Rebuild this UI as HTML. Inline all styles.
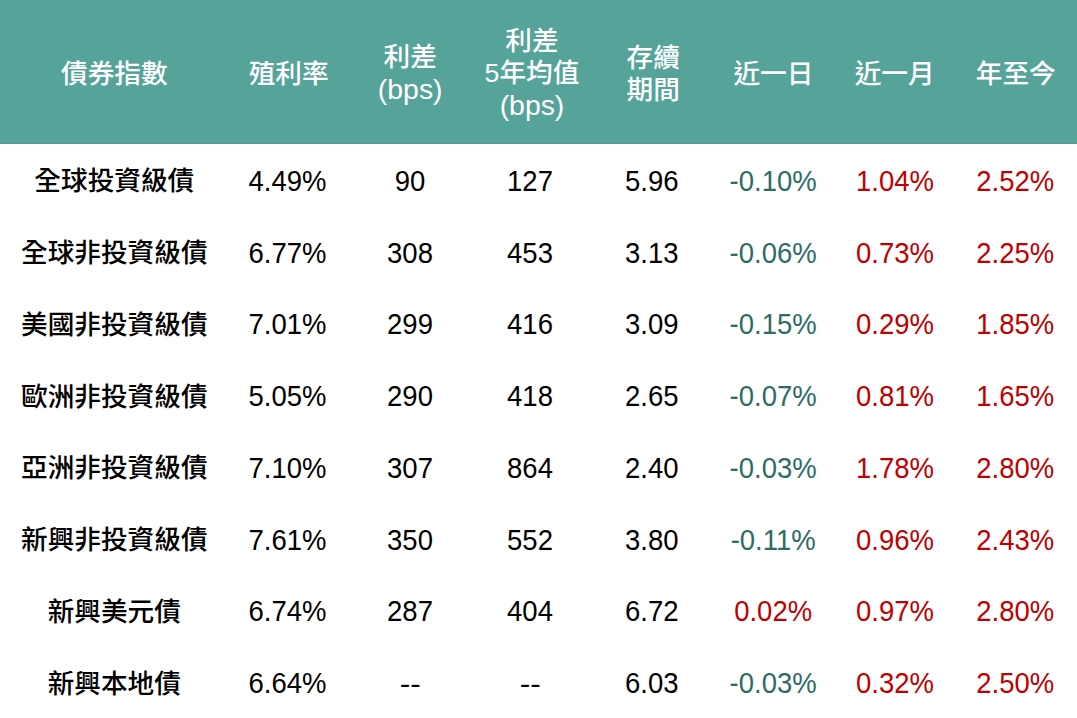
<!DOCTYPE html><html><head><meta charset="utf-8"><style>
*{margin:0;padding:0;box-sizing:border-box}
html,body{width:1077px;height:718px;overflow:hidden;background:#fff}
body{position:relative;font-family:"Liberation Sans","Noto Sans CJK TC",sans-serif}
.hd{position:absolute;left:0;top:0;width:1077px;height:144px;background:#56A39A;border-bottom:1px solid #4F9C94}
.h{position:absolute;width:200px;top:1.5px;height:144px;display:flex;align-items:center;justify-content:center;text-align:center;color:#fff;font-size:26.67px;line-height:32px;font-weight:500;font-family:"Liberation Sans","Noto Sans CJK TC",sans-serif}
.c{position:absolute;width:200px;height:71.75px;display:flex;align-items:center;justify-content:center;text-align:center;font-size:27.5px;color:#000;white-space:nowrap}
.n{font-family:"Liberation Sans","Noto Sans CJK TC",sans-serif;font-weight:500;font-size:26.67px;padding-bottom:2px}
.c span{display:inline-block;transform:translateY(1.5px) scaleY(1.04)}
.b{font-size:28.4px}
.c span.d{transform:translateY(1.5px) scaleX(1.15)}
.g{color:#2E6B64}
.r{color:#C00000}
</style></head><body>
<div class="hd"></div>
<div class="h" style="left:14.3px"><div>債券指數</div></div>
<div class="h" style="left:188.7px"><div>殖利率</div></div>
<div class="h" style="left:310.2px"><div>利差<br><span class=b>(bps)</span></div></div>
<div class="h" style="left:432.0px"><div>利差<br>5年均值<br><span class=b>(bps)</span></div></div>
<div class="h" style="left:553.2px"><div>存續<br>期間</div></div>
<div class="h" style="left:673.4px"><div>近一日</div></div>
<div class="h" style="left:794.7px"><div>近一月</div></div>
<div class="h" style="left:915.8px"><div>年至今</div></div>
<div class="c n" style="left:14.3px;top:144.00px">全球投資級債</div>
<div class="c" style="left:187.5px;top:144.00px"><span>4.49%</span></div>
<div class="c" style="left:310.0px;top:144.00px"><span>90</span></div>
<div class="c" style="left:430.0px;top:144.00px"><span>127</span></div>
<div class="c" style="left:551.8px;top:144.00px"><span>5.96</span></div>
<div class="c g" style="left:673.2px;top:144.00px"><span>-0.10%</span></div>
<div class="c r" style="left:795.0px;top:144.00px"><span>1.04%</span></div>
<div class="c r" style="left:915.3px;top:144.00px"><span>2.52%</span></div>
<div class="c n" style="left:14.3px;top:215.75px">全球非投資級債</div>
<div class="c" style="left:187.5px;top:215.75px"><span>6.77%</span></div>
<div class="c" style="left:310.0px;top:215.75px"><span>308</span></div>
<div class="c" style="left:430.0px;top:215.75px"><span>453</span></div>
<div class="c" style="left:551.8px;top:215.75px"><span>3.13</span></div>
<div class="c g" style="left:673.2px;top:215.75px"><span>-0.06%</span></div>
<div class="c r" style="left:795.0px;top:215.75px"><span>0.73%</span></div>
<div class="c r" style="left:915.3px;top:215.75px"><span>2.25%</span></div>
<div class="c n" style="left:14.3px;top:287.50px">美國非投資級債</div>
<div class="c" style="left:187.5px;top:287.50px"><span>7.01%</span></div>
<div class="c" style="left:310.0px;top:287.50px"><span>299</span></div>
<div class="c" style="left:430.0px;top:287.50px"><span>416</span></div>
<div class="c" style="left:551.8px;top:287.50px"><span>3.09</span></div>
<div class="c g" style="left:673.2px;top:287.50px"><span>-0.15%</span></div>
<div class="c r" style="left:795.0px;top:287.50px"><span>0.29%</span></div>
<div class="c r" style="left:915.3px;top:287.50px"><span>1.85%</span></div>
<div class="c n" style="left:14.3px;top:359.25px">歐洲非投資級債</div>
<div class="c" style="left:187.5px;top:359.25px"><span>5.05%</span></div>
<div class="c" style="left:310.0px;top:359.25px"><span>290</span></div>
<div class="c" style="left:430.0px;top:359.25px"><span>418</span></div>
<div class="c" style="left:551.8px;top:359.25px"><span>2.65</span></div>
<div class="c g" style="left:673.2px;top:359.25px"><span>-0.07%</span></div>
<div class="c r" style="left:795.0px;top:359.25px"><span>0.81%</span></div>
<div class="c r" style="left:915.3px;top:359.25px"><span>1.65%</span></div>
<div class="c n" style="left:14.3px;top:431.00px">亞洲非投資級債</div>
<div class="c" style="left:187.5px;top:431.00px"><span>7.10%</span></div>
<div class="c" style="left:310.0px;top:431.00px"><span>307</span></div>
<div class="c" style="left:430.0px;top:431.00px"><span>864</span></div>
<div class="c" style="left:551.8px;top:431.00px"><span>2.40</span></div>
<div class="c g" style="left:673.2px;top:431.00px"><span>-0.03%</span></div>
<div class="c r" style="left:795.0px;top:431.00px"><span>1.78%</span></div>
<div class="c r" style="left:915.3px;top:431.00px"><span>2.80%</span></div>
<div class="c n" style="left:14.3px;top:502.75px">新興非投資級債</div>
<div class="c" style="left:187.5px;top:502.75px"><span>7.61%</span></div>
<div class="c" style="left:310.0px;top:502.75px"><span>350</span></div>
<div class="c" style="left:430.0px;top:502.75px"><span>552</span></div>
<div class="c" style="left:551.8px;top:502.75px"><span>3.80</span></div>
<div class="c g" style="left:673.2px;top:502.75px"><span>-0.11%</span></div>
<div class="c r" style="left:795.0px;top:502.75px"><span>0.96%</span></div>
<div class="c r" style="left:915.3px;top:502.75px"><span>2.43%</span></div>
<div class="c n" style="left:14.3px;top:574.50px">新興美元債</div>
<div class="c" style="left:187.5px;top:574.50px"><span>6.74%</span></div>
<div class="c" style="left:310.0px;top:574.50px"><span>287</span></div>
<div class="c" style="left:430.0px;top:574.50px"><span>404</span></div>
<div class="c" style="left:551.8px;top:574.50px"><span>6.72</span></div>
<div class="c r" style="left:673.2px;top:574.50px"><span>0.02%</span></div>
<div class="c r" style="left:795.0px;top:574.50px"><span>0.97%</span></div>
<div class="c r" style="left:915.3px;top:574.50px"><span>2.80%</span></div>
<div class="c n" style="left:14.3px;top:646.25px">新興本地債</div>
<div class="c" style="left:187.5px;top:646.25px"><span>6.64%</span></div>
<div class="c" style="left:310.0px;top:646.25px"><span class=d>--</span></div>
<div class="c" style="left:430.0px;top:646.25px"><span class=d>--</span></div>
<div class="c" style="left:551.8px;top:646.25px"><span>6.03</span></div>
<div class="c g" style="left:673.2px;top:646.25px"><span>-0.03%</span></div>
<div class="c r" style="left:795.0px;top:646.25px"><span>0.32%</span></div>
<div class="c r" style="left:915.3px;top:646.25px"><span>2.50%</span></div>
</body></html>
